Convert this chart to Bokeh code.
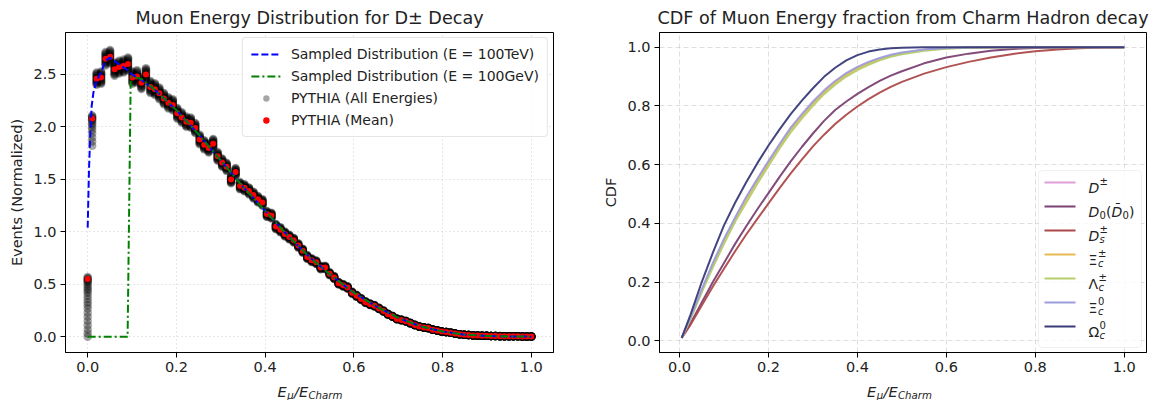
import numpy as np
from bokeh.plotting import figure
from bokeh.models import (Legend, LegendItem, FixedTicker, PrintfTickFormatter, Label,
                          BoxAnnotation, Range1d)
from bokeh.layouts import row, column
from bokeh.embed import file_html
from bokeh.resources import INLINE

FONT = "DejaVu Sans"

# ---------------- data: left panel ----------------
pythia_mean = [0.55, 2.08, 2.46, 2.47, 2.65, 2.67, 2.55, 2.57, 2.58, 2.60,
               2.47, 2.48, 2.42, 2.50, 2.38, 2.36, 2.32, 2.27, 2.23, 2.21,
               2.13, 2.09, 2.05, 2.04, 1.99, 1.88, 1.83, 1.80, 1.84, 1.72,
               1.66, 1.62, 1.50, 1.57, 1.44, 1.42, 1.39, 1.35, 1.31, 1.28,
               1.17, 1.155, 1.05, 1.02, 0.98, 0.95, 0.92, 0.87, 0.82, 0.76,
               0.73, 0.71, 0.66, 0.66, 0.60, 0.565, 0.51, 0.49, 0.47, 0.42,
               0.39, 0.36, 0.33, 0.31, 0.295, 0.27, 0.245, 0.215, 0.195, 0.17,
               0.16, 0.148, 0.13, 0.112, 0.097, 0.089, 0.083, 0.068, 0.06, 0.05,
               0.045, 0.038, 0.03, 0.024, 0.019, 0.016, 0.013, 0.011, 0.010, 0.009,
               0.008, 0.007, 0.006, 0.005, 0.005, 0.004, 0.004, 0.003, 0.003, 0.002]
pythia_x = np.linspace(0.0, 1.0, len(pythia_mean))   # bin positions

# all-energy PYTHIA values in the first two bins (spread over energies)
pythia_bin0_all = [0.0, 0.03, 0.07, 0.11, 0.15, 0.19, 0.23, 0.27, 0.30, 0.33, 0.36,
                   0.39, 0.42, 0.44, 0.46, 0.48, 0.50, 0.52, 0.53, 0.54, 0.55, 0.56, 0.57]
pythia_bin1_all = [1.82, 1.86, 1.90, 1.94, 1.97, 2.00, 2.02, 2.04, 2.06, 2.07, 2.08,
                   2.09, 2.10, 2.11]
# relative spread of the individual energies around the mean (other bins)
pythia_rel_spread = [-0.024, -0.02, -0.016, -0.012, -0.008, -0.004, 0.0,
                     0.004, 0.008, 0.012, 0.016, 0.02, 0.024]

sampled_tev_x = [0.0, 0.003, 0.006, 0.009, 0.013, 0.02, 0.03, 0.04, 0.05, 0.06, 0.07,
                 0.08, 0.09, 0.1, 0.12, 0.15, 0.2, 0.25, 0.3, 0.35, 0.4, 0.45, 0.5,
                 0.55, 0.6, 0.65, 0.7, 0.75, 0.8, 0.85, 0.9, 0.95, 1.0]
sampled_tev_y = [1.04, 1.6, 1.95, 2.2, 2.33, 2.44, 2.52, 2.63, 2.66, 2.63, 2.6,
                 2.57, 2.54, 2.5, 2.45, 2.36, 2.16, 1.93, 1.68, 1.43, 1.2, 0.97, 0.76,
                 0.58, 0.42, 0.29, 0.18, 0.1, 0.05, 0.02, 0.008, 0.003, 0.001]
sampled_gev_x = [0.0, 0.09, 0.097, 0.1, 0.12, 0.15, 0.2, 0.25, 0.3, 0.35, 0.4, 0.45, 0.5,
                 0.55, 0.6, 0.65, 0.7, 0.75, 0.8, 0.85, 0.9, 0.95, 1.0]
sampled_gev_y = [0.0, 0.0, 2.46, 2.48, 2.46, 2.36, 2.16, 1.93, 1.68, 1.43, 1.2, 0.97, 0.76,
                 0.58, 0.42, 0.29, 0.18, 0.1, 0.05, 0.02, 0.008, 0.003, 0.001]

# ---------------- data: right panel ----------------
cdf_x = [0.005, 0.025, 0.05, 0.075, 0.1, 0.125, 0.15, 0.175, 0.2, 0.225, 0.25, 0.275,
         0.3, 0.325, 0.35, 0.375, 0.4, 0.425, 0.45, 0.475, 0.5, 0.55, 0.6, 0.65, 0.7,
         0.75, 0.8, 0.85, 0.9, 0.95, 1.0]
cdf_D_pm = [0.01, 0.079, 0.172, 0.26, 0.343, 0.416, 0.485, 0.548, 0.608, 0.666, 0.722, 0.767,
            0.811, 0.849, 0.882, 0.909, 0.93, 0.947, 0.961, 0.972, 0.98, 0.991, 0.996, 0.999,
            1.0, 1.0, 1.0, 1.0, 1.0, 1.0, 1.0]
cdf_D0 = [0.01, 0.06, 0.13, 0.2, 0.265, 0.33, 0.39, 0.448, 0.503, 0.558, 0.611, 0.66,
          0.706, 0.749, 0.786, 0.815, 0.841, 0.864, 0.885, 0.903, 0.918, 0.945, 0.965, 0.978,
          0.988, 0.994, 0.997, 0.999, 1.0, 1.0, 1.0]
cdf_Ds = [0.01, 0.055, 0.12, 0.185, 0.245, 0.305, 0.362, 0.415, 0.468, 0.52, 0.57, 0.617,
          0.662, 0.702, 0.738, 0.77, 0.798, 0.823, 0.845, 0.865, 0.882, 0.91, 0.932, 0.95,
          0.965, 0.977, 0.986, 0.992, 0.996, 0.999, 1.0]
cdf_Xi_c_pm = [0.01, 0.078, 0.17, 0.258, 0.34, 0.413, 0.481, 0.544, 0.604, 0.662, 0.718, 0.764,
               0.808, 0.846, 0.879, 0.906, 0.928, 0.945, 0.959, 0.97, 0.979, 0.99, 0.996, 0.998,
               0.999, 1.0, 1.0, 1.0, 1.0, 1.0, 1.0]
cdf_Lambda_c = [0.01, 0.075, 0.165, 0.25, 0.33, 0.405, 0.47, 0.535, 0.595, 0.655, 0.71, 0.757,
                0.8, 0.84, 0.872, 0.9, 0.922, 0.94, 0.955, 0.967, 0.976, 0.988, 0.995, 0.998,
                0.999, 1.0, 1.0, 1.0, 1.0, 1.0, 1.0]
cdf_Xi_c0 = [0.01, 0.08, 0.175, 0.265, 0.347, 0.42, 0.49, 0.552, 0.612, 0.67, 0.726, 0.772,
             0.815, 0.853, 0.885, 0.912, 0.933, 0.95, 0.963, 0.974, 0.982, 0.992, 0.997, 0.999,
             1.0, 1.0, 1.0, 1.0, 1.0, 1.0, 1.0]
cdf_Omega_c0 = [0.01, 0.09, 0.2, 0.3, 0.393, 0.47, 0.54, 0.605, 0.665, 0.72, 0.772, 0.818,
                0.86, 0.899, 0.93, 0.955, 0.973, 0.985, 0.992, 0.996, 0.998, 1.0, 1.0, 1.0,
                1.0, 1.0, 1.0, 1.0, 1.0, 1.0, 1.0]
hadron_series = [cdf_D_pm, cdf_D0, cdf_Ds, cdf_Xi_c_pm, cdf_Lambda_c, cdf_Xi_c0, cdf_Omega_c0]
hadron_colors = ["#de9ed6", "#7b4173", "#ad494a", "#e7ba52", "#b5cf6b", "#9c9ede", "#393b79"]

TICK_PX = "14.5px"

# ---------------- helpers ----------------
def style_axes(p, grid_dash, grid_color, grid_alpha):
    p.outline_line_color = "black"
    p.outline_line_width = 1
    p.outline_line_alpha = 1
    p.background_fill_color = "white"
    p.border_fill_color = "white"
    for ax in (p.xaxis[0], p.yaxis[0]):
        ax.major_tick_out = 5
        ax.major_tick_in = 0
        ax.minor_tick_line_color = None
        ax.axis_line_color = "black"
        ax.major_tick_line_color = "black"
        ax.major_label_text_font = FONT
        ax.major_label_text_font_size = TICK_PX
        ax.major_label_text_color = "#222222"
        ax.major_label_standoff = 4
        ax.axis_label_text_font = FONT
        ax.axis_label_text_font_size = TICK_PX
        ax.axis_label_text_font_style = "normal"
        ax.axis_label_text_color = "#222222"
        ax.axis_label_standoff = 5
        ax.formatter = PrintfTickFormatter(format="%.1f")
    for g in p.grid:
        g.grid_line_color = grid_color
        g.grid_line_dash = grid_dash
        g.grid_line_alpha = grid_alpha
        g.grid_line_width = 1
    p.title.text_font = FONT
    p.title.text_font_size = "17.6px"
    p.title.text_font_style = "normal"
    p.title.text_color = "#222222"
    p.title.align = "center"


def mapper(xr, yr, fw, fh):
    def fx(px):
        return xr[0] + px * (xr[1] - xr[0]) / fw
    def fy(py):
        return yr[1] - py * (yr[1] - yr[0]) / fh
    return fx, fy


def add_pieces(p, fx, fy, x0, ybase, pieces):
    for text, dx, dy, size, style in pieces:
        p.add_layout(Label(x=fx(x0 + dx), y=fy(ybase + dy), text=text,
                           text_font=FONT, text_font_size=f"{size}px",
                           text_font_style=style, text_color="#222222",
                           text_align="left", text_baseline="alphabetic"))


def xlabel_strip(width, center_px):
    """A thin text strip under a panel that carries the E_mu/E_Charm axis label."""
    H = 20
    q = figure(width=width, height=H, frame_width=width, frame_height=H,
               min_border=0, x_range=Range1d(0, width), y_range=Range1d(0, H),
               x_axis_type=None, y_axis_type=None, output_backend="svg",
               toolbar_location=None)
    q.grid.visible = False
    q.outline_line_color = None
    q.background_fill_color = "white"
    q.border_fill_color = "white"
    fx, fy = mapper((0, width), (0, H), width, H)
    pieces = [("E", 0, 0, 14.5, "italic"), ("μ", 9.8, 3.5, 10.2, "italic"),
              ("/E", 16.5, 0, 14.5, "italic"), ("Charm", 31, 3.5, 10.2, "italic")]
    add_pieces(q, fx, fy, center_px - 32, 11, pieces)
    return q

# ---------------- left figure ----------------
LXR, LYR = (-0.05, 1.05), (-0.15, 2.9)
LFW, LFH = 488, 320
p1 = figure(width=600, height=380, frame_width=LFW, frame_height=LFH,
            min_border_left=65, min_border_right=47, min_border_top=32, min_border_bottom=28,
            x_range=Range1d(*LXR), y_range=Range1d(*LYR),
            output_backend="svg", toolbar_location=None,
            title="Muon Energy Distribution for D± Decay")
style_axes(p1, "1 3", "#b0b0b0", 0.6)
p1.xaxis.ticker = FixedTicker(ticks=[0.0, 0.2, 0.4, 0.6, 0.8, 1.0])
p1.yaxis.ticker = FixedTicker(ticks=[0.0, 0.5, 1.0, 1.5, 2.0, 2.5])
p1.yaxis.axis_label = "Events (Normalized)"

all_x, all_y = [], []
for v in pythia_bin0_all:
    all_x.append(pythia_x[0]); all_y.append(v)
for v in pythia_bin1_all:
    all_x.append(pythia_x[1]); all_y.append(v)
for xi, m in zip(pythia_x[2:], pythia_mean[2:]):
    for d in pythia_rel_spread:
        all_x.append(xi); all_y.append(m * (1 + d))

r_all = p1.scatter(all_x, all_y, marker="circle", size=8.5, fill_color="black",
                   fill_alpha=0.35, line_color=None)
r_mean = p1.scatter(list(pythia_x), pythia_mean, marker="circle", size=6,
                    fill_color="#ff0000", line_color=None)
r_tev = p1.line(sampled_tev_x, sampled_tev_y, line_color="#0000ff", line_width=2,
                line_dash="7 3")
r_gev = p1.line(sampled_gev_x, sampled_gev_y, line_color="#008000", line_width=2,
                line_dash="8 3 2 3")

leg1 = Legend(items=[
    LegendItem(label="Sampled Distribution (E = 100TeV)", renderers=[r_tev]),
    LegendItem(label="Sampled Distribution (E = 100GeV)", renderers=[r_gev]),
    LegendItem(label="PYTHIA (All Energies)", renderers=[r_all]),
    LegendItem(label="PYTHIA (Mean)", renderers=[r_mean]),
], location="top_right")
leg1.label_text_font = FONT
leg1.label_text_font_size = "14px"
leg1.label_text_color = "#222222"
leg1.glyph_width = 30
leg1.glyph_height = 16
leg1.label_standoff = 10
leg1.label_height = 16
leg1.spacing = 6
leg1.padding = 8
leg1.margin = 5
leg1.border_line_color = "#cccccc"
leg1.border_line_width = 1
leg1.border_radius = 4
leg1.background_fill_alpha = 0.8
p1.add_layout(leg1)

# ---------------- right figure ----------------
RXR, RYR = (-0.045, 1.05), (-0.04, 1.05)
RFW, RFH = 487, 320
p2 = figure(width=550, height=380, frame_width=RFW, frame_height=RFH,
            min_border_left=55, min_border_right=8, min_border_top=32, min_border_bottom=28,
            x_range=Range1d(*RXR), y_range=Range1d(*RYR),
            output_backend="svg", toolbar_location=None,
            title="CDF of Muon Energy fraction from Charm Hadron decay")
style_axes(p2, "5 3", "#b0b0b0", 0.4)
p2.xaxis.ticker = FixedTicker(ticks=[0.0, 0.2, 0.4, 0.6, 0.8, 1.0])
p2.yaxis.ticker = FixedTicker(ticks=[0.0, 0.2, 0.4, 0.6, 0.8, 1.0])
p2.yaxis.axis_label = "CDF"

for ys, c in zip(hadron_series, hadron_colors):
    p2.line(cdf_x, ys, line_color=c, line_width=2, line_alpha=0.95)

rfx, rfy = mapper(RXR, RYR, RFW, RFH)

# manual legend (mathematical labels)
p2.add_layout(BoxAnnotation(left=rfx(379), right=rfx(482), top=rfy(138), bottom=rfy(315),
                            fill_color="white", fill_alpha=0.8, line_color="#cccccc",
                            line_width=1, border_radius=4))
legend_pieces = [
    [("D", 0, 5, 14, "italic"), ("±", 11, -1, 10, "normal")],
    [("D", 0, 5, 14, "italic"), ("0", 11, 8.5, 10, "normal"), ("(", 17.5, 5, 14, "normal"),
     ("D\u0304", 23, 5, 14, "italic"), ("0", 34, 8.5, 10, "normal"), (")", 40.5, 5, 14, "normal")],
    [("D", 0, 5, 14, "italic"), ("±", 11, -1.5, 10, "normal"), ("s", 11, 8.5, 10, "italic")],
    [("Ξ", 0, 5, 14, "normal"), ("±", 9.5, -1.5, 10, "normal"), ("c", 9.5, 8.5, 10, "italic")],
    [("Λ", 0, 5, 14, "normal"), ("±", 10, -1.5, 10, "normal"), ("c", 10, 8.5, 10, "italic")],
    [("Ξ", 0, 5, 14, "normal"), ("0", 9.5, -1.5, 10, "normal"), ("c", 9.5, 8.5, 10, "italic")],
    [("Ω", 0, 5, 14, "normal"), ("0", 11, -1.5, 10, "normal"), ("c", 11, 8.5, 10, "italic")],
]
for k, (c, pieces) in enumerate(zip(hadron_colors, legend_pieces)):
    yc = 150 + 24 * k
    p2.add_layout(BoxAnnotation(left=rfx(385), right=rfx(416), top=rfy(yc - 1), bottom=rfy(yc + 1),
                                fill_color=c, fill_alpha=1, line_alpha=0))
    add_pieces(p2, rfx, rfy, 429, yc, pieces)

# ---------------- x-axis label strips ----------------
q1 = xlabel_strip(600, 65 + LFW / 2)
q2 = xlabel_strip(550, 55 + RFW / 2)

layout = column(row(p1, p2), row(q1, q2))
open("out.html", "w").write(file_html(layout, INLINE))
